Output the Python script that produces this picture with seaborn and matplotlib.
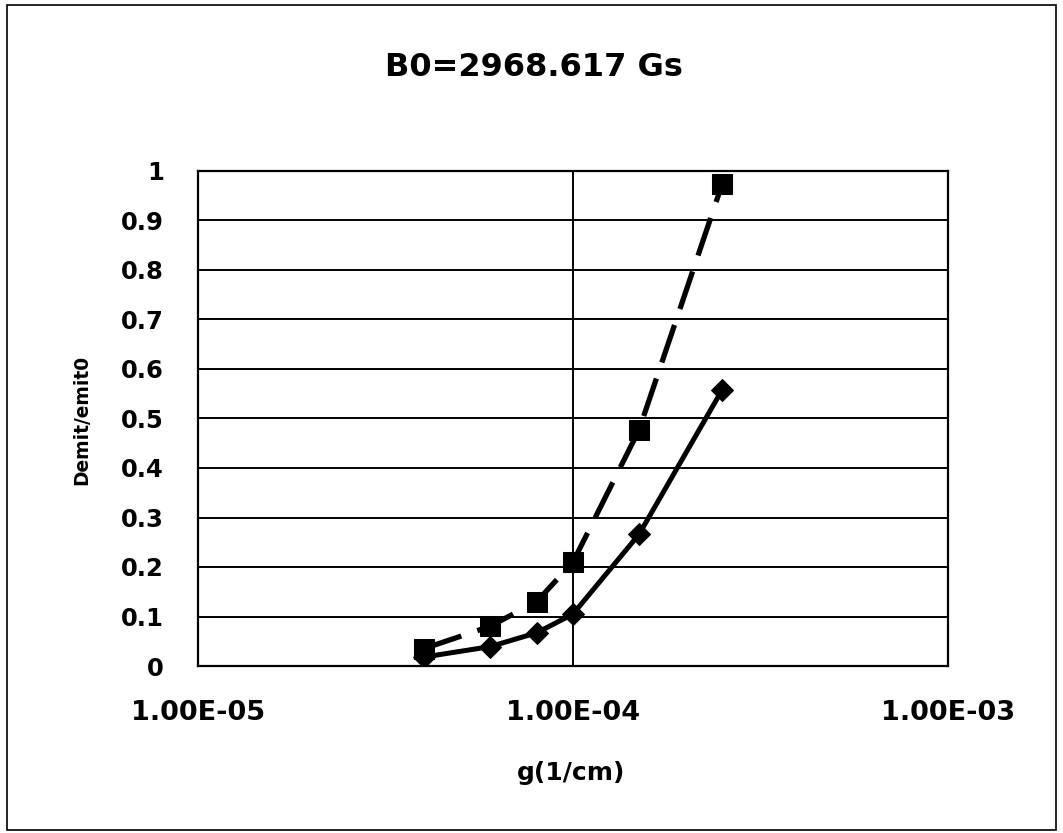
import matplotlib
matplotlib.use("Agg")
import matplotlib.pyplot as plt
import seaborn as sns
import pandas as pd
from matplotlib.ticker import FixedLocator, FixedFormatter, NullLocator
from matplotlib.patches import Rectangle

g_values = [4.0e-5, 6.0e-5, 8.0e-5, 1.0e-4, 1.5e-4, 2.5e-4]
series_square = [0.035, 0.08, 0.13, 0.21, 0.477, 0.974]
series_diamond = [0.018, 0.039, 0.067, 0.105, 0.266, 0.558]
x_ticks = [1e-5, 1e-4, 1e-3]
x_tick_labels = ["1.00E-05", "1.00E-04", "1.00E-03"]
y_ticks = [0, 0.1, 0.2, 0.3, 0.4, 0.5, 0.6, 0.7, 0.8, 0.9, 1]
y_tick_labels = ["0", "0.1", "0.2", "0.3", "0.4", "0.5", "0.6", "0.7", "0.8", "0.9", "1"]
title = "B0=2968.617 Gs"
x_label = "g(1/cm)"
y_label = "Demit/emit0"

sns.set_style("white")
plt.rcParams['font.family'] = ['DejaVu Sans']
plt.rcParams['text.color'] = 'black'
plt.rcParams['xtick.color'] = 'black'
plt.rcParams['ytick.color'] = 'black'
plt.rcParams['axes.labelcolor'] = 'black'

fig = plt.figure(figsize=(10.63, 8.33), dpi=100)
ax = fig.add_axes([198 / 1063, 1 - 666 / 833, (948 - 198) / 1063, (666 - 171) / 833])

df_sq = pd.DataFrame({"g": g_values, "v": series_square})
df_di = pd.DataFrame({"g": g_values, "v": series_diamond})

sns.lineplot(data=df_sq, x="g", y="v", ax=ax, color="black", linewidth=3.8,
             marker="s", markersize=14.5, markeredgecolor="black", zorder=4)
ax.lines[-1].set_dashes([7.5, 3.2])
sns.lineplot(data=df_di, x="g", y="v", ax=ax, color="black", linewidth=3.6,
             marker="D", markersize=11.5, markeredgecolor="black", zorder=4)

ax.set_xscale("log")
ax.set_xlim(1e-5, 1e-3)
ax.set_ylim(0, 1)
ax.xaxis.set_major_locator(FixedLocator(x_ticks))
ax.xaxis.set_major_formatter(FixedFormatter(x_tick_labels))
ax.xaxis.set_minor_locator(NullLocator())
ax.yaxis.set_major_locator(FixedLocator(y_ticks))
ax.yaxis.set_major_formatter(FixedFormatter(y_tick_labels))
ax.set_xlabel("")
ax.set_ylabel("")

ax.grid(True, which="major", color="black", linewidth=1.4)
for s in ax.spines.values():
    s.set_color("black")
    s.set_linewidth(1.6)
    s.set_visible(True)

ax.tick_params(axis="both", which="major", direction="out", length=8.5, width=1.4,
               color="black", labelcolor="black")
ax.tick_params(axis="x", pad=16, labelsize=19.5)
ax.tick_params(axis="y", pad=16, labelsize=17.5)
for lab in ax.get_xticklabels() + ax.get_yticklabels():
    lab.set_fontweight("bold")

fig.text(571 / 1063, 1 - 773 / 833, x_label, ha="center", va="center",
         fontsize=18, fontweight="bold", color="black")
fig.text(82 / 1063, 1 - 420 / 833, y_label, ha="center", va="center",
         rotation=90, fontsize=13.4, fontweight="bold", color="black")
fig.text(534 / 1063, 1 - 67 / 833, title, ha="center", va="center", fontsize=23,
         fontweight="bold", color="black")

fig.patches.append(Rectangle((0.007, 0.004), 0.986, 0.99, transform=fig.transFigure,
                             fill=False, edgecolor="black", linewidth=1.2))

fig.savefig("out.png", dpi=100, facecolor="white")
